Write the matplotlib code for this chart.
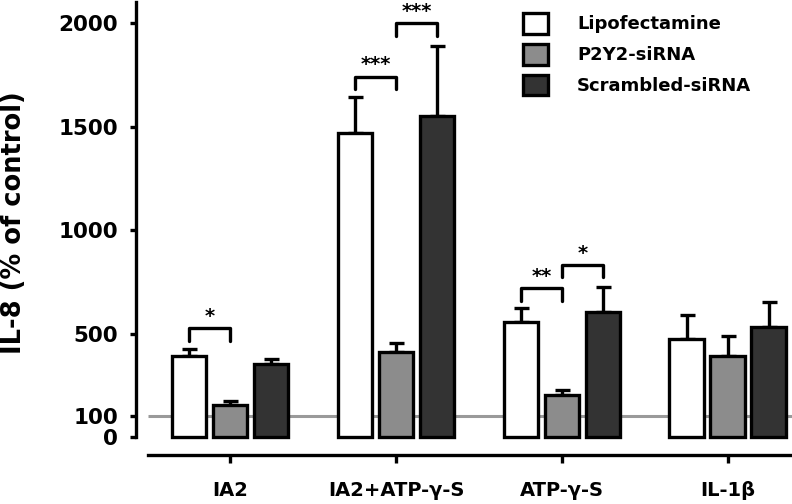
import numpy as np
import matplotlib
matplotlib.use("Agg")
import matplotlib.pyplot as plt
from matplotlib.patches import Patch

plt.rcParams['font.family'] = ['DejaVu Sans']
plt.rcParams['font.weight'] = 'bold'

# data
groups = ["IA2", "IA2+ATP-\u03b3-S", "ATP-\u03b3-S", "IL-1\u03b2"]
series = ["Lipofectamine", "P2Y2-siRNA", "Scrambled-siRNA"]
lipo = [393, 1471, 557, 474]
p2y2 = [155, 409, 203, 393]
scr = [351, 1553, 606, 530]
lipo_err = [34, 172, 65, 116]
p2y2_err = [19, 47, 24, 97]
scr_err = [24, 337, 121, 124]
colors = ["#ffffff", "#8c8c8c", "#333333"]

# significance brackets: (group, bar a, bar b, bracket top, label)
brackets = [
    (0, 0, 1, 525, "*"),
    (1, 0, 1, 1741, "***"),
    (1, 1, 2, 2000, "***"),
    (2, 0, 1, 719, "**"),
    (2, 1, 2, 831, "*"),
]

fig = plt.figure(figsize=(7.92, 5.04), dpi=100)
ax = fig.add_axes([136 / 792, 1 - 455 / 504, 656 / 792, 453 / 504])

x = np.arange(len(groups))
width = 0.21
offset = 0.247
lw = 2.4

ax.hlines(100, -0.494, 3.386, color="#9a9a9a", lw=2.2, zorder=1)

for i, (vals, errs) in enumerate(zip([lipo, p2y2, scr], [lipo_err, p2y2_err, scr_err])):
    pos = x + (i - 1) * offset
    ax.errorbar(pos, vals, yerr=[np.zeros(len(vals)), errs], fmt="none",
                ecolor="black", elinewidth=lw, capsize=5.4, capthick=lw, zorder=2)
    ax.bar(pos, vals, width=width, color=colors[i], edgecolor="black",
           linewidth=lw, zorder=3)

leg = 60
for g, a, b, top, lab in brackets:
    xa = g + (a - 1) * offset
    xb = g + (b - 1) * offset
    ax.plot([xa, xa, xb, xb], [top - leg, top, top, top - leg], color="black",
            lw=lw, solid_capstyle="round", solid_joinstyle="round", zorder=4)
    ax.text((xa + xb) / 2, top + 12, lab, ha="center", va="bottom",
            fontsize=14, fontweight="bold")

ax.set_xlim(-0.566, 3.386)
ax.set_ylim(-87, 2102)
ax.spines["top"].set_visible(False)
ax.spines["right"].set_visible(False)
ax.spines["left"].set_bounds(0, 2102)
ax.spines["bottom"].set_bounds(-0.494, 3.386)
ax.spines["left"].set_linewidth(lw)
ax.spines["bottom"].set_linewidth(lw)

ax.set_yticks([0, 100, 500, 1000, 1500, 2000])
ax.tick_params(axis="y", length=4, width=lw, pad=9, labelsize=15.5)
ax.set_xticks(x)
ax.set_xticklabels(groups)
ax.tick_params(axis="x", length=6, width=lw, pad=13, labelsize=14)
for t in ax.get_yticklabels() + ax.get_xticklabels():
    t.set_fontweight("bold")

ax.set_ylabel("IL-8 (% of control)", fontsize=18.5, fontweight="bold")
ax.yaxis.set_label_coords(-109 / 656, (455 - 223) / 453)

handles = [Patch(facecolor=c, edgecolor="black", linewidth=lw) for c in colors]
ax.legend(handles, series, loc="upper left", bbox_to_anchor=(514 / 792, 1 - 4 / 504),
          bbox_transform=fig.transFigure, frameon=False,
          handlelength=1.4, handleheight=1.4, labelspacing=0.55, handletextpad=1.6,
          borderpad=0, prop={"weight": "bold", "size": 13})

fig.savefig("out.png", dpi=100)
